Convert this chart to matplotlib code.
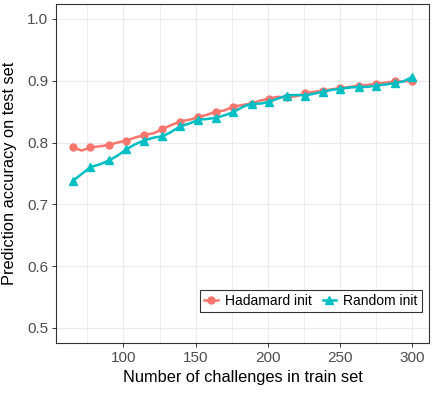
import numpy as np
import matplotlib
matplotlib.use('Agg')
import matplotlib.pyplot as plt

plt.rcParams['font.family'] = ['Liberation Sans', 'DejaVu Sans']

# challenges in train set (markers on every other point)
n_train = [65, 71, 77, 84, 90, 96, 102, 108, 114, 121, 127, 133, 139, 146, 152, 158,
           164, 170, 176, 183, 189, 195, 201, 207, 213, 220, 226, 232, 238, 244,
           250, 257, 263, 269, 275, 282, 288, 294, 300]
acc_hadamard = [0.792, 0.787, 0.792, 0.794, 0.796, 0.800, 0.803, 0.808, 0.812, 0.815,
                0.822, 0.828, 0.834, 0.837, 0.841, 0.845, 0.850, 0.852, 0.858, 0.861,
                0.863, 0.868, 0.871, 0.874, 0.873, 0.875, 0.880, 0.882, 0.884, 0.886,
                0.888, 0.890, 0.892, 0.893, 0.895, 0.897, 0.899, 0.899, 0.900]
acc_random = [0.738, 0.749, 0.760, 0.765, 0.771, 0.779, 0.789, 0.797, 0.803, 0.808,
              0.810, 0.817, 0.826, 0.831, 0.837, 0.838, 0.840, 0.844, 0.849, 0.858,
              0.863, 0.863, 0.866, 0.871, 0.876, 0.877, 0.876, 0.879, 0.882, 0.885,
              0.887, 0.889, 0.890, 0.890, 0.892, 0.894, 0.896, 0.899, 0.906]

red = '#F8766D'
cyan = '#00BFC4'

fig = plt.figure(figsize=(4.33, 3.93), dpi=100)
ax = fig.add_axes([56/433, 1-343.3/393, (429-56)/433, (343.3-3.5)/393])

ax.plot(n_train, acc_hadamard, color=red, lw=1.8, marker='o', ms=5,
        markevery=2, label='Hadamard init', zorder=3)
ax.plot(n_train, acc_random, color=cyan, lw=1.8, marker='^', ms=5.5,
        markevery=2, label='Random init', zorder=3)

ax.set_xlim(53.25, 311.75)
ax.set_ylim(0.475, 1.025)
ax.set_xticks([100, 150, 200, 250, 300])
ax.set_xticks([75, 125, 175, 225, 275], minor=True)
ax.set_yticks([0.5, 0.6, 0.7, 0.8, 0.9, 1.0])
ax.grid(True, which='major', color='#EBEBEB', lw=0.8, zorder=0)
ax.grid(True, which='minor', axis='x', color='#EBEBEB', lw=0.6, zorder=0)
ax.tick_params(which='major', length=3, width=0.7, color='#333333',
               labelcolor='#4D4D4D', labelsize=11, pad=2.5)
ax.tick_params(which='minor', length=0)
for s in ax.spines.values():
    s.set_color('#333333')
    s.set_linewidth(0.8)

ax.set_xlabel('Number of challenges in train set', fontsize=11.8, labelpad=4)
ax.set_ylabel('Prediction accuracy on test set', fontsize=11.8)
ax.yaxis.set_label_coords(-39/373, 0.5)

leg = ax.legend(loc='lower right', bbox_to_anchor=(0.981, 0.092), ncol=2,
                frameon=True, fancybox=False, fontsize=10, handlelength=1.0,
                columnspacing=0.8, handletextpad=0.5, borderpad=0.3,
                borderaxespad=0)
leg.get_frame().set_edgecolor('black')
leg.get_frame().set_linewidth(0.8)

fig.savefig('out.png', dpi=100)
